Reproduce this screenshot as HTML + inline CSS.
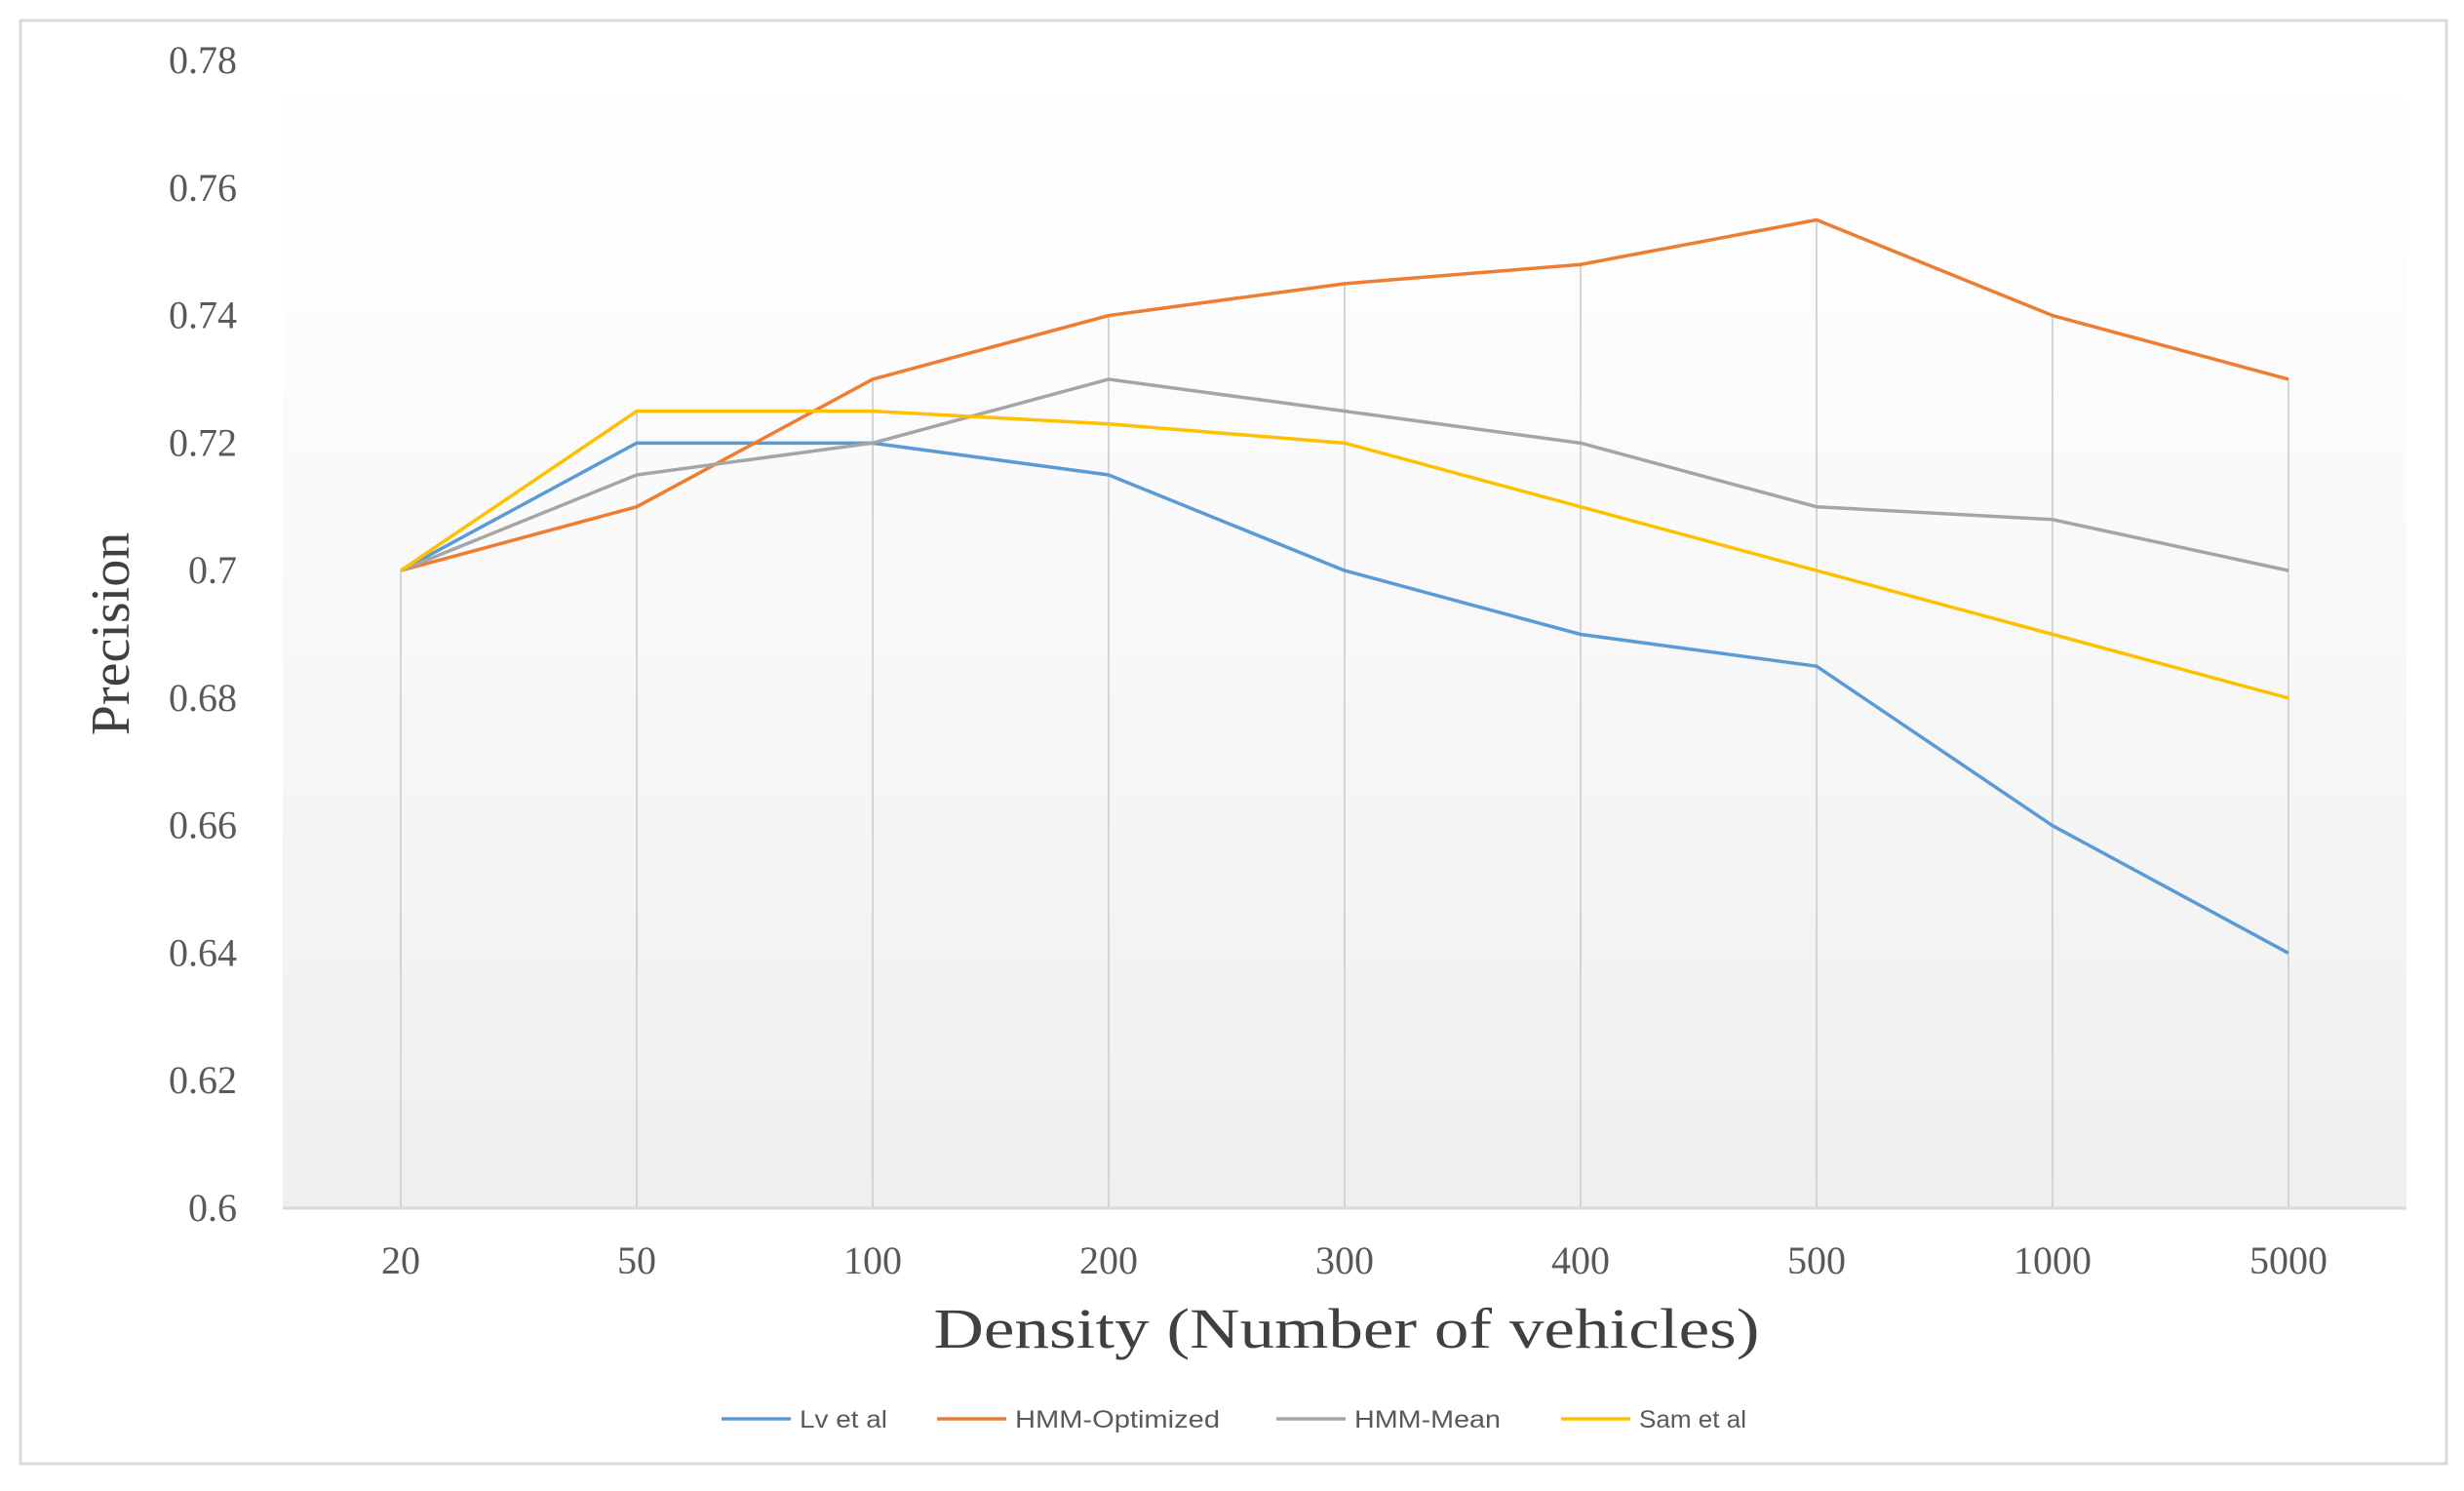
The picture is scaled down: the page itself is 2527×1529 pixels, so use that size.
<!DOCTYPE html>
<html><head><meta charset="utf-8"><style>
html,body{margin:0;padding:0;background:#fff;}
svg{display:block;}
</style></head><body>
<svg id="chart" width="2527" height="1529" viewBox="0 0 2527 1529" xmlns="http://www.w3.org/2000/svg">
<defs>
<linearGradient id="bg" x1="0" y1="0" x2="0" y2="1">
<stop offset="0" stop-color="#ffffff"/><stop offset="0.2" stop-color="#fdfdfd"/><stop offset="1" stop-color="#efefef"/>
</linearGradient>
</defs>
<rect x="21" y="21" width="2488" height="1480" fill="#fff" stroke="#d9d9d9" stroke-width="3"/>
<rect x="290" y="62" width="2178" height="1177" fill="url(#bg)"/>
<g id="grid"></g>
<line x1="290" y1="1239" x2="2468" y2="1239" stroke="#d9d9d9" stroke-width="3"/>
<g id="yticks"></g>
<g id="xticks"></g>
<g id="series"></g>
<text transform="translate(132,650) rotate(-90)" text-anchor="middle" font-family="Liberation Serif, serif" font-size="56" fill="#404040">Precision</text>
<text x="1381" y="1382" text-anchor="middle" font-family="Liberation Serif, serif" font-size="58" fill="#404040" textLength="847" lengthAdjust="spacingAndGlyphs">Density (Number of vehicles)</text>
<g id="legend"></g>
</svg>
<script>
const categories = ["20","50","100","200","300","400","500","1000","5000"];
const yTicks = [0.6,0.62,0.64,0.66,0.68,0.7,0.72,0.74,0.76,0.78];
const yTickLabels = ["0.6","0.62","0.64","0.66","0.68","0.7","0.72","0.74","0.76","0.78"];
const seriesNames = ["Lv et al","HMM-Optimized","HMM-Mean","Sam et al"];
const lvEtAl = [0.70,0.72,0.72,0.715,0.70,0.69,0.685,0.66,0.64];
const hmmOptimized = [0.70,0.71,0.73,0.74,0.745,0.748,0.755,0.74,0.73];
const hmmMean = [0.70,0.715,0.72,0.73,0.725,0.72,0.71,0.708,0.70];
const samEtAl = [0.70,0.725,0.725,0.723,0.72,0.71,0.70,0.69,0.68];

const NS="http://www.w3.org/2000/svg";
const X0=290,X1=2468,Y0=1239,Y1=62,YMIN=0.6,YMAX=0.78;
const step=(X1-X0)/categories.length;
function xPos(i){return X0+step*(i+0.5);}
function yPos(v){return Y0-(v-YMIN)/(YMAX-YMIN)*(Y0-Y1);}
function mk(tag,attrs,parent){const e=document.createElementNS(NS,tag);for(const k in attrs)e.setAttribute(k,attrs[k]);parent.appendChild(e);return e;}

const all=[lvEtAl,hmmOptimized,hmmMean,samEtAl];
const colors=["#5b9bd5","#ed7d31","#a5a5a5","#ffc000"];
const grid=document.getElementById('grid');
categories.forEach((c,i)=>{
  const mx=Math.max(...all.map(s=>s[i]));
  const l=mk('line',{x1:xPos(i),x2:xPos(i),y1:yPos(mx),y2:Y0,stroke:'#d4d4d4','stroke-width':2},grid);
  
  
});
const yt=document.getElementById('yticks');
yTicks.forEach((v,i)=>{
  const t=mk('text',{x:243,y:yPos(v)+13,'text-anchor':'end','font-family':'Liberation Serif, serif','font-size':40,fill:'#595959'},yt);
  t.textContent=yTickLabels[i];
  
  
});
const xt=document.getElementById('xticks');
categories.forEach((c,i)=>{
  const t=mk('text',{x:xPos(i),y:1306,'text-anchor':'middle','font-family':'Liberation Serif, serif','font-size':40,fill:'#595959'},xt);
  t.textContent=c;
  
  
});
const sg=document.getElementById('series');
all.forEach((s,k)=>{
  const pts=s.map((v,i)=>xPos(i)+','+yPos(v)).join(' ');
  const p=mk('polyline',{points:pts,fill:'none',stroke:colors[k],'stroke-width':3.5,'stroke-linejoin':'round'},sg);
  
  
});
const lg=document.getElementById('legend');
const lgX=[740,961,1309,1601];
const lgW=[90,210,150,110];
seriesNames.forEach((n,k)=>{
  const g=mk('g',{},lg);
  
  
  mk('line',{x1:lgX[k],x2:lgX[k]+71,y1:1455,y2:1455,stroke:colors[k],'stroke-width':3.5},g);
  const t=mk('text',{x:lgX[k]+80,y:1464,'font-family':'Liberation Sans, sans-serif','font-size':25,fill:'#595959',textLength:lgW[k],lengthAdjust:'spacingAndGlyphs'},g);
  t.textContent=n;
});
</script>
</body></html>
